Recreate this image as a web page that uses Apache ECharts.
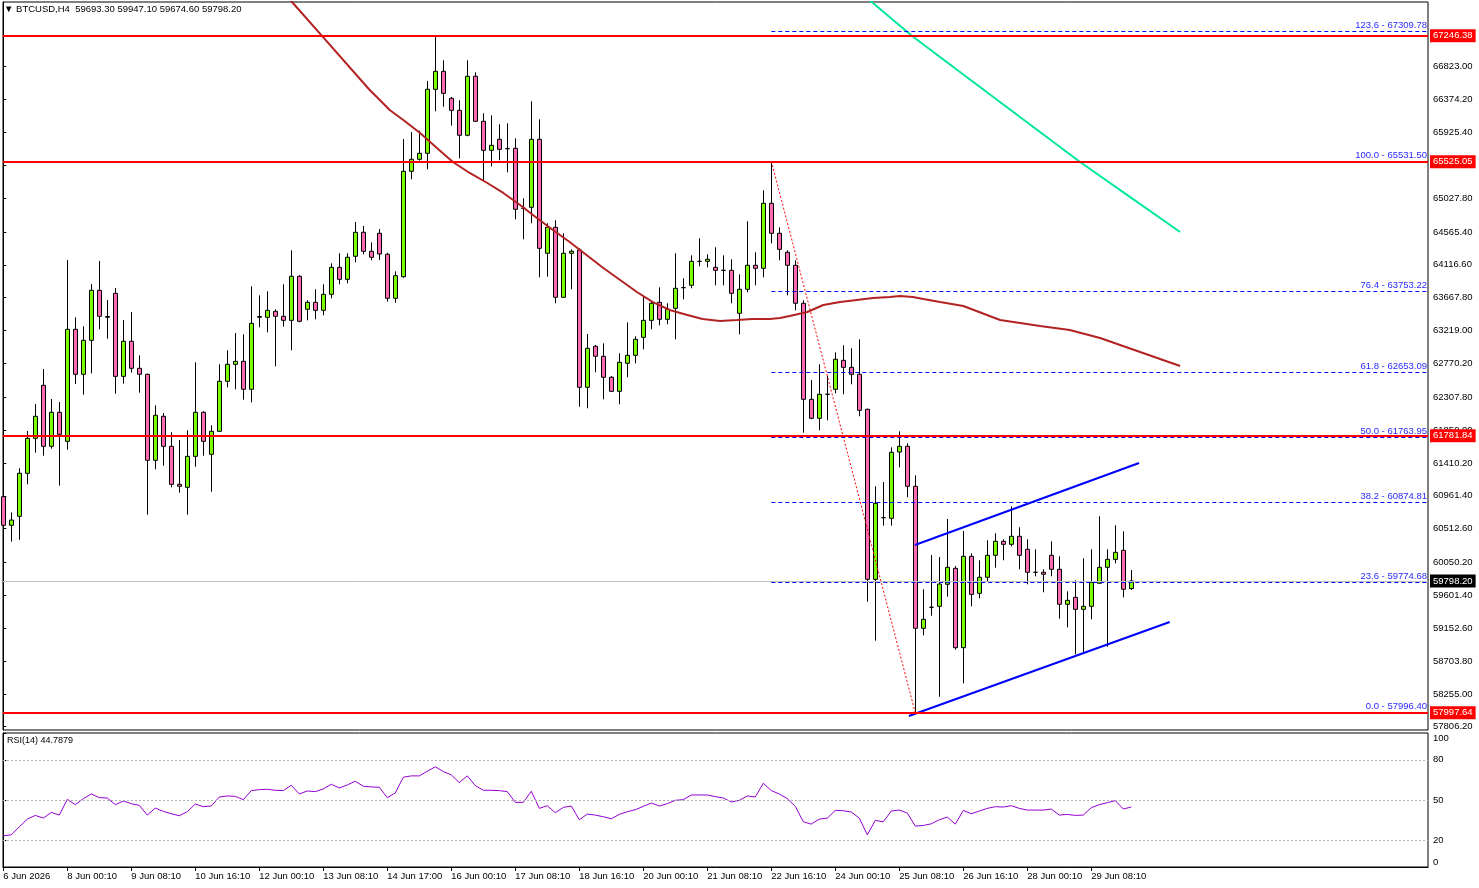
<!DOCTYPE html>
<html>
<head>
<meta charset="utf-8">
<script src="https://cdn.jsdelivr.net/npm/echarts@6/dist/echarts.min.js"></script>
<style>
  html, body { margin: 0; padding: 0; background: #fff; }
  #chart { width: 1479px; height: 888px; }
</style>
</head>
<body>
<div id="chart"></div>
<script>
// ---------------- DATA ----------------
const symbolName = 'BTCUSD,H4';
const timeLabels = ['6 Jun 2026','8 Jun 00:10','9 Jun 08:10','10 Jun 16:10','12 Jun 00:10','13 Jun 08:10','14 Jun 17:00','16 Jun 00:10','17 Jun 08:10','18 Jun 16:10','20 Jun 00:10','21 Jun 08:10','22 Jun 16:10','24 Jun 00:10','25 Jun 08:10','26 Jun 16:10','28 Jun 00:10','29 Jun 08:10'];
const timeLabelStep = 8; // bars between time labels

const openP = [
 60949,60558,60681,61268,61746,62470,61637,62102,61705,63235,
 62621,63085,63768,63410,63727,62593,63072,62703,62621,61446,
 62047,61637,61118,61077,61500,62102,61528,61842,62525,62757,
 62798,62416,63400,63399,63481,63413,63358,63960,63509,63604,
 63495,63714,64082,63918,64233,64561,64301,64547,64260,63659,
 63954,65394,65558,65640,66514,66760,66391,66227,65886,66692,
 66077,65681,65831,65703,65708,64888,64902,65831,64274,64629,
 63673,64274,64319,62443,63003,62867,62580,62388,62771,62880,
 63126,63358,63604,63372,63522,63804,63837,64164,64164,64082,
 64041,64041,63454,63782,64110,64069,64957,64547,64287,64110,
 63591,62279,62020,62348,62416,62812,62716,62621,62143,59820,
 60662,60653,61559,61637,61091,59151,59438,59451,59752,59970,
 58886,60134,59629,59848,60148,60339,60298,60408,60230,59916,
 59916,60148,59957,59479,59574,59410,59451,59766,59984,60093,
 60216,59693.30];
const closeP = [
 60558,60630,61268,61746,62047,61637,62102,61801,63235,62621,
 63085,63768,63413,63400,62593,63072,62703,62621,61446,62061,
 61637,61118,61091,61500,62102,61705,61842,62525,62757,62798,
 62416,63317,63410,63495,63413,63358,63960,63345,63604,63495,
 63714,64082,63918,64219,64561,64301,64219,64264,63659,63968,
 65394,65558,65640,66514,66760,66459,66227,65886,66692,66077,
 65681,65749,65694,65703,64875,64888,65831,64342,64629,63673,
 64274,64301,62443,62976,62867,62580,62388,62785,62880,63099,
 63358,63591,63372,63509,63796,63804,64164,64164,64192,64041,
 64041,63727,63782,64110,64069,64957,64547,64328,64110,63591,
 62279,62020,62348,62348,62826,62716,62621,62129,59820,60858,
 60662,61555,61637,61091,59151,59274,59438,59756,59984,58886,
 60134,59615,59848,60148,60339,60298,60408,60148,59916,59916,
 59889,59957,59479,59533,59410,59451,59779,59984,60093,60189,
 59684,59798.20];
const lowP = [
 60320,60334,60361,61118,61550,61509,61604,61099,61591,62488,
 62342,62634,63235,63107,62356,62492,62643,62369,60703,61323,
 61372,61077,61003,60703,61358,61509,61017,61835,62443,62416,
 62274,62238,63263,63194,62730,63271,62949,63331,63358,63372,
 63427,63659,63850,63864,64151,64260,64178,64182,63613,63599,
 63940,65285,65539,65421,66214,66276,66017,65571,65872,66070,
 65257,65462,65544,65380,64738,64465,64684,63946,63954,63591,
 63665,63782,62178,62156,62648,62279,62379,62211,62580,62771,
 62962,63235,63290,63304,63099,63645,63796,64096,64082,63837,
 63837,63591,63167,63741,63837,63946,64410,64178,63700,63495,
 61823,62006,61856,61992,62361,62348,62484,62047,59514,58981,
 60552,60552,61350,60940,57996.40,59055,59323,58216,59583,58858,
 58399,59451,59561,59793,59979,60080,60271,59957,59752,59861,
 59643,59861,59282,59164,58796,58809,59274,59760,58899,60039,
 59574,59674.60];
const highP = [
 61009,60735,61337,61846,62215,62693,62283,62242,64182,63399,
 63276,63854,64169,63636,63800,63363,63472,62880,62630,62197,
 62092,61828,61723,61856,62785,62115,61924,62757,62949,63185,
 63167,63823,63700,63755,63509,63850,64315,63973,63632,63782,
 63850,64137,64274,64274,64701,64647,64424,64606,64282,64028,
 65835,65931,65949,66628,67246.38,66910,66409,66364,66910,66746,
 66186,66159,66036,66050,65845,65025,66350,66104,64684,64725,
 64547,64328,64342,63171,63021,63044,62597,62908,63331,63140,
 63686,63608,63809,63591,64274,63932,64246,64479,64260,64356,
 64246,64192,63987,64711,64287,65134,65531.50,64629,64315,64178,
 63632,62543,62757,62597,62921,63017,62976,63099,62150,61091,
 61149,61623,61842,61678,61241,59684,60152,60125,60644,60002,
 60480,60175,60080,60353,60449,60367,60817,60531,60367,60230,
 59957,60339,60134,59656,59806,60107,60230,60681,60230,60558,
 60476,59947.10];

// shifted moving average (dark red), read as [bar position, price]
const maBars = [35,36.2,40,45.8,47,48.3,50,52.1,54.2,56.2,58.3,60.5,62.5,64.6,66.7,68.7,70.8,72.9,75,77.1,79.2,81.2,83.3,85.5,87.4,89.6,91.7,93.7,95.8,97.1,98.3,100.5,102.5,104.6,106.7,108.7,110.8,112.1,113.7,115,117.1,120,124.6,129.6,133.3,137.1,142.1,147.1];
const maValues = [67843,67693,67223,66505,66374,66231,66095,65917,65712,65521,65371,65234,65098,64934,64756,64592,64428,64250,64073,63909,63745,63608,63499,63431,63376,63349,63362,63376,63376,63390,63417,63472,63567,63608,63636,63663,63677,63690,63677,63649,63608,63553,63362,63280,63226,63117,62925,62734];
// long moving average (green)
const ma2Bars = [107,113.6,120,127,134.6,141,147.1];
const ma2Values = [67850,67242,66716,66143,65521,65030,64565];

// RSI(14)
const rsiValues = [
 23.25,24,30,35.75,38.5,36.5,40.75,38.75,50.5,46.5,
 51,54.5,51.75,51.5,46.5,49.25,47.25,46,38.75,44,
 41.5,39.75,38.25,41.25,47,45,45.5,52.25,53,52.75,
 50.25,57,57.75,58,57.25,57,61,54.5,56.75,56.25,
 58.25,61.75,59,61.25,64,60.25,59.75,59.5,51.75,55.25,
 67,68,68,71.5,74.75,71.25,68.75,63,68,60.75,
 57.25,57.25,57,56.25,48.25,48.25,56.5,43.75,45.75,40.5,
 44.5,45.5,35.25,39.5,38.75,37.5,36,39.25,41.25,42.75,
 45.25,47.75,45.5,47.25,49.75,50.25,53.75,53.75,53.75,52.5,
 51.5,48.5,49.75,53,52.25,62.5,57,54.5,51,45.25,
 33.75,32,35.75,36.5,42.25,42,41,36.5,24,34.75,
 33.75,41.75,42.5,40.25,30.5,31,32.25,35.25,37.25,32,
 42.25,39.75,41.75,43.75,45,44.75,45.75,43.75,42.5,42.5,
 42.5,43.25,38.75,39.25,38.5,38.75,44.25,46.5,48,49.5,
 43.25,44.7879];
const rsiLevels = [80, 50, 20];
const rsiTicks = [0, 20, 50, 80, 100];

// horizontal support / resistance levels (red)
const levelValues = [67246.38, 65525.05, 61781.84, 57997.64];
const currentPrice = 59798.20;

// fibonacci retracement
const fibStartBar = 96, fibEndBar = 114;
const fibRatios = ['123.6','100.0','76.4','61.8','50.0','38.2','23.6','0.0'];
const fibValues = [67309.78, 65531.50, 63753.22, 62653.09, 61763.95, 60874.81, 59774.68, 57996.40];

// rising channel (blue)
const upperChannel = [[113.96, 60289], [141.97, 61409]];
const lowerChannel = [[113.2, 57953], [145.8, 59237]];

// price axis tick labels
const priceTicks = [57806.20,58255.00,58703.80,59152.60,59601.40,60050.20,60512.60,60961.40,61410.20,61859.00,62307.80,62770.20,63219.00,63667.80,64116.60,64565.40,65027.80,65476.60,65925.40,66374.20,66823.00];

// ---------------- CHART ----------------
const FONT = 'Liberation Sans';
const FS = 9.5;
const X_MIN = -0.0375, X_MAX = 178.0875;
const Y_MIN = 57761.5, Y_MAX = 67706.7;

const candles = openP.map((o, i) => [i, o, closeP[i], lowP[i], highP[i]]);
const maData = maBars.map((b, i) => [b, maValues[i]]);
const ma2Data = ma2Bars.map((b, i) => [b, ma2Values[i]]);
const rsiData = rsiValues.map((v, i) => [i, v]);
const last = openP.length - 1;
const headerText = '▼ ' + symbolName + '  ' + [openP[last], highP[last], lowP[last], closeP[last]].map(v => v.toFixed(2)).join(' ');
const timeTickValues = timeLabels.map((_, i) => i * timeLabelStep);

const fibStyle = { color: '#0000ff', width: 1, type: [4, 3], opacity: 1 };
const levelLines = levelValues.map(v => ({
  yAxis: v,
  lineStyle: { color: '#ff0000', width: 2, type: 'solid' },
  label: { show: true, position: 'end', distance: 2, formatter: v.toFixed(2), color: '#ffffff',
           backgroundColor: '#ff0000', padding: [2, 3, 1, 3], fontSize: FS, fontFamily: FONT }
}));
levelLines.push({
  yAxis: currentPrice,
  lineStyle: { color: '#c0c0c0', width: 1, type: 'solid' },
  label: { show: true, position: 'end', distance: 2, formatter: currentPrice.toFixed(2), color: '#ffffff',
           backgroundColor: '#000000', padding: [2, 3, 1, 3], fontSize: FS, fontFamily: FONT }
});
const fibLines = fibValues.map((v, i) => [
  { coord: [fibStartBar, v], lineStyle: fibStyle,
    label: { show: true, position: 'insideEndTop', distance: 1, formatter: fibRatios[i] + ' - ' + v.toFixed(2),
             color: '#2a2aff', fontSize: FS, fontFamily: FONT } },
  { coord: [X_MAX, v], lineStyle: fibStyle }
]);

const chart = echarts.init(document.getElementById('chart'), null, { renderer: 'canvas' });
chart.setOption({
  animation: false,
  backgroundColor: '#ffffff',
  title: [
    { text: headerText, left: 4, top: 4, padding: 0, textStyle: { fontSize: 9.5, fontWeight: 'normal', color: '#000', fontFamily: FONT } },
    { text: 'RSI(14) ' + rsiValues[last].toFixed(4), left: 7, top: 736, padding: 0, textStyle: { fontSize: 9, fontWeight: 'normal', color: '#000', fontFamily: FONT } }
  ],
  grid: [
    { left: 3, top: 2, width: 1425, height: 728, show: true, borderColor: '#000', borderWidth: 1, backgroundColor: 'transparent' },
    { left: 3, top: 733, width: 1425, height: 134, show: true, borderColor: '#000', borderWidth: 1, backgroundColor: 'transparent' }
  ],
  xAxis: [
    { type: 'value', gridIndex: 0, min: X_MIN, max: X_MAX, show: false },
    { type: 'value', gridIndex: 1, min: X_MIN, max: X_MAX,
      axisLine: { show: true, lineStyle: { color: '#000' } },
      axisTick: { show: true, length: 4, customValues: timeTickValues, lineStyle: { color: '#000' } },
      axisLabel: { show: true, customValues: timeTickValues, align: 'left', margin: 4,
        formatter: v => timeLabels[Math.round(v / timeLabelStep)] || '',
        color: '#000', fontSize: FS, fontFamily: FONT },
      splitLine: { show: false } }
  ],
  yAxis: [
    { type: 'value', gridIndex: 0, position: 'right', min: Y_MIN, max: Y_MAX, scale: true,
      axisLine: { show: true, lineStyle: { color: '#000' } },
      axisTick: { show: true, length: 3, customValues: priceTicks, lineStyle: { color: '#000' } },
      axisLabel: { show: true, customValues: priceTicks, margin: 5, formatter: v => v.toFixed(2),
        color: '#000', fontSize: FS, fontFamily: FONT },
      splitLine: { show: false } },
    { type: 'value', gridIndex: 1, position: 'right', min: 0, max: 100,
      axisLine: { show: true, lineStyle: { color: '#000' } },
      axisTick: { show: true, length: 3, customValues: rsiTicks, lineStyle: { color: '#000' } },
      axisLabel: { show: true, customValues: rsiTicks, margin: 5, color: '#000', fontSize: FS, fontFamily: FONT,
        verticalAlignMinLabel: 'bottom', verticalAlignMaxLabel: 'top' },
      splitLine: { show: false } }
  ],
  series: [
    { type: 'candlestick', xAxisIndex: 0, yAxisIndex: 0, data: candles,
      encode: { x: 0, y: [1, 2, 3, 4] }, barWidth: 4,
      itemStyle: { color: '#7CFC00', color0: '#FF69B4', borderColor: '#000', borderColor0: '#000', borderWidth: 1 } },
    { type: 'line', xAxisIndex: 0, yAxisIndex: 0, data: maData, showSymbol: false, symbol: 'none',
      lineStyle: { color: '#B22222', width: 2 } },
    { type: 'line', xAxisIndex: 0, yAxisIndex: 0, data: ma2Data, showSymbol: false, symbol: 'none',
      lineStyle: { color: '#00E8A0', width: 2 } },
    { type: 'line', xAxisIndex: 0, yAxisIndex: 0,
      data: [[fibStartBar, fibValues[1]], [fibEndBar, fibValues[7]]], showSymbol: false, symbol: 'none',
      lineStyle: { color: '#ff0000', width: 1, type: [2, 2] } },
    { type: 'line', xAxisIndex: 0, yAxisIndex: 0, data: upperChannel, showSymbol: false, symbol: 'none',
      lineStyle: { color: '#0000ff', width: 2 } },
    { type: 'line', xAxisIndex: 0, yAxisIndex: 0, data: lowerChannel, showSymbol: false, symbol: 'none',
      lineStyle: { color: '#0000ff', width: 2 } },
    { type: 'line', xAxisIndex: 0, yAxisIndex: 0, data: [], silent: true, color: '#0000ff',
      markLine: { symbol: ['none', 'none'], silent: true, animation: false, lineStyle: fibStyle,
        data: fibLines.concat(levelLines) } },
    { type: 'line', xAxisIndex: 1, yAxisIndex: 1, data: rsiData, showSymbol: false, symbol: 'none',
      lineStyle: { color: '#9400D3', width: 1 },
      markLine: { symbol: ['none', 'none'], silent: true, animation: false,
        lineStyle: { color: '#b0b0b0', width: 1, type: [2, 2] }, label: { show: false },
        data: rsiLevels.map(v => ({ yAxis: v })) } }
  ]
});
</script>
</body>
</html>
